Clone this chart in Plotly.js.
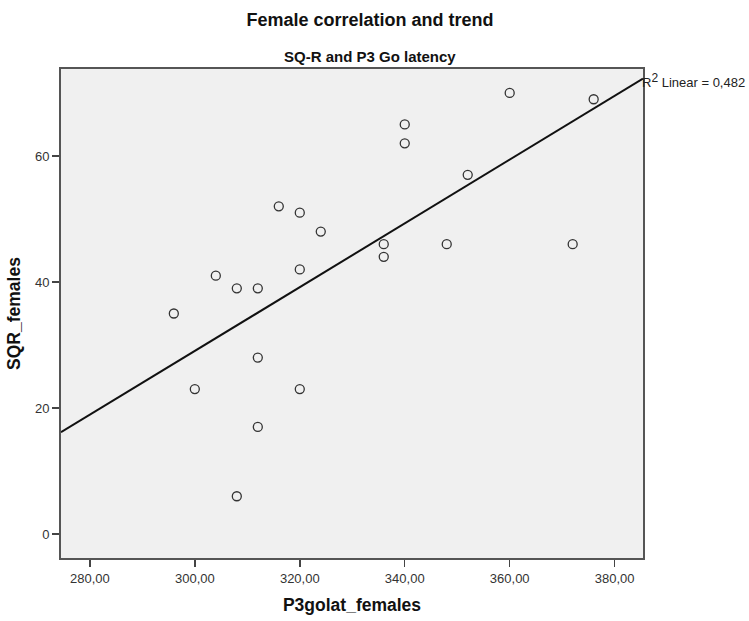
<!DOCTYPE html>
<html>
<head>
<meta charset="utf-8">
<script src="https://cdn.plot.ly/plotly-3.0.1.min.js"></script>
<style>html,body{margin:0;padding:0;background:#fff;}#chart{width:749px;height:621px;}</style>
</head>
<body>
<div id="chart"></div>
<script>
const p3golat_females = [316,320,324,320,304,308,312,296,312,300,320,312,308,360,376,340,340,352,336,336,348,372];
const sqr_females = [52,51,48,42,41,39,39,35,28,23,23,17,6,70,69,65,62,57,46,44,46,46];
const r2Label = 'R<sup><span style="font-size:12px">2</span></sup> Linear = 0,482';
const xRange = [274.5, 385.4];
const yRange = [-3.8, 73.8];

// least-squares fit from the data
const n = p3golat_females.length;
const mx = p3golat_females.reduce((a,b)=>a+b,0)/n;
const my = sqr_females.reduce((a,b)=>a+b,0)/n;
let sxy = 0, sxx = 0;
for (let i=0;i<n;i++){ sxy += (p3golat_females[i]-mx)*(sqr_females[i]-my); sxx += (p3golat_females[i]-mx)**2; }
const slope = sxy/sxx, icpt = my - slope*mx;
const fitX = [xRange[0], xRange[1]];
const fitY = fitX.map(x => icpt + slope*x);

const font = 'Liberation Sans, Arial, sans-serif';
const data = [
  {x: fitX, y: fitY, mode:'lines', line:{color:'#111', width:2}, hoverinfo:'skip'},
  {x: p3golat_females, y: sqr_females, mode:'markers', type:'scatter',
   marker:{symbol:'circle-open', size:9, color:'#333', line:{width:1.3, color:'#333'}}}
];
const layout = {
  width:749, height:621, showlegend:false,
  separators: ',.',
  paper_bgcolor:'#fff', plot_bgcolor:'#f0f0f0',
  margin:{l:61, r:106, t:69, b:63},
  font:{family:font, color:'#222'},
  title:{text:'<b>Female correlation and trend</b>', font:{size:18, family:font, color:'#111'}, x:370/749, xanchor:'center', y:1-20/621, yanchor:'middle'},
  xaxis:{range:xRange, tickvals:[280,300,320,340,360,380], tickformat:'.2f',
    ticks:'outside', ticklen:7, tickcolor:'#444', tickwidth:1.5,
    showline:true, linecolor:'#555', linewidth:2, mirror:true, showgrid:false, zeroline:false,
    tickfont:{size:13, color:'#333', family:font},
    title:{text:'<b>P3golat_females</b>', font:{size:17.5, color:'#111', family:font}, standoff:14}},
  yaxis:{range:yRange, tickvals:[0,20,40,60],
    ticks:'outside', ticklen:7, tickcolor:'#444', tickwidth:1.5,
    showline:true, linecolor:'#555', linewidth:2, mirror:true, showgrid:false, zeroline:false,
    tickfont:{size:13, color:'#333', family:font},
    title:{text:'<b>SQR_females</b>', font:{size:17.5, color:'#111', family:font}, standoff:10}},
  annotations:[
    {text:'<b>SQ-R and P3 Go latency</b>', xref:'paper', yref:'paper', x:(370-61)/(749-61-106), y:1+(69-56)/(621-69-63), xanchor:'center', yanchor:'middle', showarrow:false, font:{size:15, color:'#111', family:font}},
    {text:r2Label, xref:'paper', yref:'y', x:1, y:fitY[1]-0.3, xanchor:'left', yanchor:'middle', showarrow:false, xshift:-3, font:{size:13, color:'#222', family:font}}
  ]
};
Plotly.newPlot('chart', data, layout, {displayModeBar:false, staticPlot:true});
</script>
</body>
</html>
